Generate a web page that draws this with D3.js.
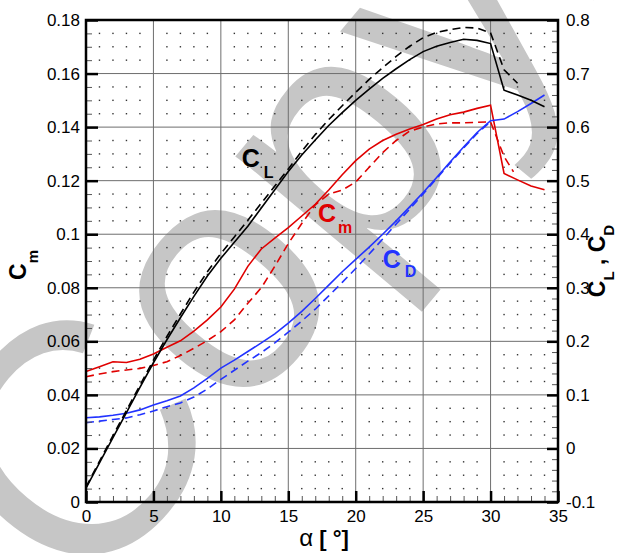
<!DOCTYPE html>
<html>
<head>
<meta charset="utf-8">
<script src="https://cdn.jsdelivr.net/npm/d3@7"></script>
<style>
  body { margin: 0; background: #fff; }
  svg { display: block; }
  text { font-family: "Liberation Sans", Arial, sans-serif; }
</style>
</head>
<body>
<svg id="chart" width="622" height="553"></svg>
<script>
// angle of attack (deg)
const alpha = [0,1,2,3,4,5,6,7,8,9,10,11,12,13,14,15,16,17,18,19,20,21,22,23,24,25,26,27,28,29,30,31,32,33,34];
const alphaClDash = [0,1,2,3,4,5,6,7,8,9,10,11,12,13,14,15,16,17,18,19,20,21,22,23,24,25,26,27,28,29,30,31,32];
const alphaCmDash = [0,1,2,3,4,5,6,7,8,9,10,11,12,13,14,15,16,17,18,19,20,21,22,23,24,25,26,27,28,29,30,31,31.7];
const alphaCdDash = [0,1,2,3,4,5,6,7,8,9,10,11,12,13,14,15,16,17,18,19,20,21,22,23,24,25,26,27,28,29,30];

// CL (right axis)
const clSolid = [-0.074,-0.027,0.020,0.067,0.114,0.160,0.203,0.244,0.284,0.322,0.355,0.385,0.415,0.449,0.483,0.517,0.548,0.576,0.603,0.627,0.650,0.671,0.691,0.709,0.726,0.741,0.751,0.758,0.764,0.762,0.756,0.669,0.660,0.650,0.638];
const clDash = [-0.072,-0.024,0.024,0.071,0.118,0.165,0.209,0.251,0.292,0.330,0.364,0.395,0.426,0.458,0.490,0.522,0.555,0.586,0.614,0.640,0.665,0.689,0.711,0.732,0.751,0.767,0.777,0.782,0.786,0.785,0.776,0.707,0.682];

// Cm (left axis)
const cmSolid = [0.0487,0.0505,0.0524,0.0521,0.0533,0.0553,0.0578,0.0602,0.0638,0.0680,0.0728,0.0795,0.0880,0.0945,0.0985,0.1025,0.1068,0.1112,0.1165,0.1222,0.1275,0.1318,0.1350,0.1373,0.1393,0.1410,0.1430,0.1446,0.1456,0.1470,0.1482,0.1227,0.1203,0.1180,0.1166];
const cmDash = [0.0468,0.0478,0.0487,0.0493,0.0499,0.0510,0.0524,0.0547,0.0574,0.0603,0.0636,0.0680,0.0742,0.0800,0.0880,0.0965,0.1040,0.1110,0.1150,0.1165,0.1195,0.1250,0.1305,0.1350,0.1385,0.1400,0.1412,0.1416,0.1416,0.1418,0.1420,0.1290,0.1233];

// CD (right axis)
const cdSolid = [0.0574,0.0590,0.0620,0.0656,0.0720,0.0810,0.0890,0.0980,0.1130,0.1310,0.1500,0.1650,0.1810,0.1970,0.2140,0.2340,0.2560,0.2800,0.3050,0.3300,0.3530,0.3760,0.4000,0.4250,0.4510,0.4780,0.5060,0.5350,0.5630,0.5900,0.6120,0.6150,0.6290,0.6440,0.6600];
const cdDash = [0.0480,0.0510,0.0540,0.0570,0.0630,0.0700,0.0780,0.0850,0.0960,0.1110,0.1290,0.1460,0.1630,0.1790,0.1970,0.2170,0.2380,0.2600,0.2850,0.3100,0.3360,0.3630,0.3910,0.4190,0.4470,0.4750,0.5040,0.5330,0.5610,0.5880,0.6100];

// tick values
const xTicks = [0,5,10,15,20,25,30,35];
const cmTicks = [0,0.02,0.04,0.06,0.08,0.1,0.12,0.14,0.16,0.18];
const clcdTicks = [-0.1,0,0.1,0.2,0.3,0.4,0.5,0.6,0.7,0.8];

const W = 622, H = 553;
const margin = {top: 20, right: 64, bottom: 51, left: 86};
const svg = d3.select("#chart");

const x = d3.scaleLinear().domain([0, 35]).range([margin.left, W - margin.right]);
const yL = d3.scaleLinear().domain([0, 0.18]).range([H - margin.bottom, margin.top]);
const yR = d3.scaleLinear().domain([-0.1, 0.8]).range([H - margin.bottom, margin.top]);

const x0 = margin.left, x1 = W - margin.right, y0 = H - margin.bottom, y1 = margin.top;

// watermark
svg.append("text")
  .attr("transform", "translate(84,608) rotate(-50)")
  .attr("font-family", "Liberation Serif, serif")
  .attr("font-size", 330)
  .attr("fill", "#c6c6c6")
  .text("Copyright");

// grid
const grid = svg.append("g");
grid.selectAll("line.gv")
  .data(xTicks.filter(d => d > 0 && d < 35))
  .join("line")
    .attr("x1", d => x(d)).attr("x2", d => x(d))
    .attr("y1", y1).attr("y2", y0)
    .attr("stroke", "#6e6e6e").attr("stroke-width", 1);
grid.selectAll("line.gh")
  .data(cmTicks.filter(d => d > 0 && d < 0.18))
  .join("line")
    .attr("x1", x0).attr("x2", x1)
    .attr("y1", d => yL(d)).attr("y2", d => yL(d))
    .attr("stroke", "#6e6e6e").attr("stroke-width", 1);

const isMult = (v, s) => Math.abs(v / s - Math.round(v / s)) < 1e-6;
const minorX = x.ticks(35).filter(d => !isMult(d, 5));
const minorY = yL.ticks(36).filter(d => !isMult(d, 0.02));
const dots = [];
minorX.forEach(a => minorY.forEach(c => dots.push([a, c])));
grid.selectAll("rect.dot")
  .data(dots)
  .join("rect")
    .attr("x", d => x(d[0]) - 0.7)
    .attr("y", d => yL(d[1]) - 0.7)
    .attr("width", 1.4).attr("height", 1.4)
    .attr("fill", "#333");

// curves
const lineR = d3.line().x(d => x(d[0])).y(d => yR(d[1]));
const lineL = d3.line().x(d => x(d[0])).y(d => yL(d[1]));

const series = [
  {a: alphaCmDash, v: cmDash, line: lineL, color: "#e00000", dash: "8,5"},
  {a: alpha, v: cmSolid, line: lineL, color: "#e00000", dash: null},
  {a: alphaCdDash, v: cdDash, line: lineR, color: "#2233ff", dash: "8,5"},
  {a: alpha, v: cdSolid, line: lineR, color: "#2233ff", dash: null},
  {a: alphaClDash, v: clDash, line: lineR, color: "#000", dash: "8,5"},
  {a: alpha, v: clSolid, line: lineR, color: "#000", dash: null}
];

svg.append("g").selectAll("path")
  .data(series)
  .join("path")
    .attr("d", s => s.line(d3.zip(s.a, s.v)))
    .attr("fill", "none")
    .attr("stroke", s => s.color)
    .attr("stroke-width", 1.6)
    .attr("stroke-dasharray", s => s.dash);

// axes
function styleAxis(g, width, color) {
  g.select(".domain").remove();
  g.attr("font-family", null).attr("font-size", 17);
  g.selectAll(".tick line").attr("stroke", color).attr("stroke-width", width);
  g.selectAll(".tick text").attr("fill", "#000");
}

const fmtCm = d => d === 0 ? "0" : String(+d.toFixed(2));
const fmtR = d => String(+d.toFixed(1));

svg.append("g")
  .attr("transform", `translate(${x0},0)`)
  .call(d3.axisLeft(yL).tickValues(yL.ticks(36)).tickSize(-6).tickFormat(""))
  .call(g => styleAxis(g, 1, "#555"));
svg.append("g")
  .attr("transform", `translate(${x0},0)`)
  .call(d3.axisLeft(yL).tickValues(cmTicks).tickSize(-12).tickPadding(6).tickFormat(fmtCm))
  .call(g => styleAxis(g, 2.5, "#000"));

svg.append("g")
  .attr("transform", `translate(0,${y0})`)
  .call(d3.axisBottom(x).tickValues(x.ticks(35)).tickSize(-6).tickFormat(""))
  .call(g => styleAxis(g, 1, "#555"));
svg.append("g")
  .attr("transform", `translate(0,${y0})`)
  .call(d3.axisBottom(x).tickValues(xTicks).tickSize(-11).tickPadding(8).tickFormat(d3.format("d")))
  .call(g => styleAxis(g, 2.5, "#000"));

svg.append("g")
  .attr("transform", `translate(${x1},0)`)
  .call(d3.axisRight(yR).tickValues(yR.ticks(45)).tickSize(-6).tickFormat(""))
  .call(g => styleAxis(g, 1, "#555"));
svg.append("g")
  .attr("transform", `translate(${x1},0)`)
  .call(d3.axisRight(yR).tickValues(clcdTicks).tickSize(-11).tickPadding(8).tickFormat(fmtR))
  .call(g => styleAxis(g, 2.5, "#000"));

// frame
svg.append("rect")
  .attr("x", x0).attr("y", y1)
  .attr("width", x1 - x0).attr("height", y0 - y1)
  .attr("fill", "none").attr("stroke", "#000").attr("stroke-width", 2.5);

// axis titles
const xt = svg.append("text")
  .attr("x", (x0 + x1) / 2 + 2).attr("y", 546)
  .attr("text-anchor", "middle")
  .attr("font-size", 22).attr("font-weight", "bold");
xt.append("tspan").attr("font-weight", "normal").attr("font-size", 24).text("α");
xt.append("tspan").text(" [ °]");

const lt = svg.append("text")
  .attr("transform", `translate(26,${(y0 + y1) / 2 + 4}) rotate(-90)`)
  .attr("text-anchor", "middle")
  .attr("font-size", 23).attr("font-weight", "bold");
lt.append("tspan").text("C");
lt.append("tspan").attr("dy", 12).attr("font-size", 15).text("m");

const rt = svg.append("text")
  .attr("transform", `translate(605,${(y0 + y1) / 2}) rotate(-90)`)
  .attr("text-anchor", "middle")
  .attr("font-size", 23).attr("font-weight", "bold");
rt.append("tspan").text("C");
rt.append("tspan").attr("dy", 9).attr("font-size", 15).text("L");
rt.append("tspan").attr("dy", -9).text(" ,  C");
rt.append("tspan").attr("dy", 9).attr("font-size", 15).text("D");

// curve labels
function curveLabel(px, py, main, sub, color, dx, dy) {
  const t = svg.append("text")
    .attr("x", px).attr("y", py)
    .attr("font-size", 25).attr("font-weight", "bold").attr("fill", color);
  t.append("tspan").text(main);
  t.append("tspan").attr("dx", dx).attr("dy", dy).attr("font-size", 16).text(sub);
}
curveLabel(x(11.55), yL(0.1252), "C", "L", "#000", 4, 11);
curveLabel(x(17.2), yL(0.1045), "C", "m", "#e00000", 2, 11);
curveLabel(x(22.0), yR(0.337), "C", "D", "#2233ff", 4, 9);
</script>
</body>
</html>
